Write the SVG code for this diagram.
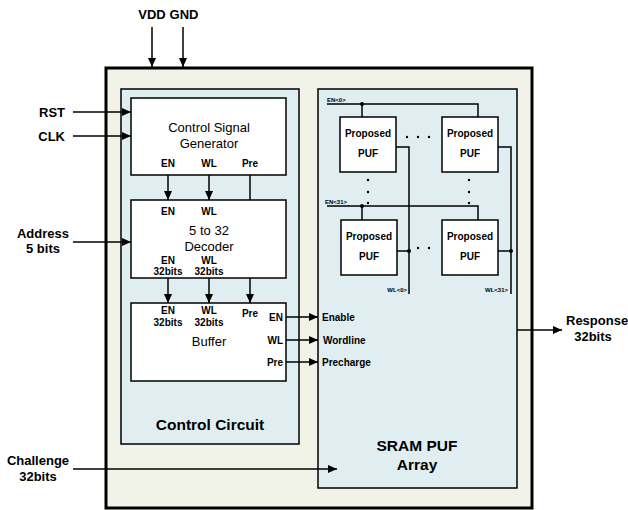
<svg xmlns="http://www.w3.org/2000/svg" width="628" height="510" viewBox="0 0 628 510">
<defs>
<marker id="ah" markerWidth="9" markerHeight="8" refX="9" refY="4" orient="auto" markerUnits="userSpaceOnUse">
<path d="M0,0 L9,4 L0,8 Z" fill="#000"/>
</marker>
<style>
.t{font-family:"Liberation Sans",Arial,sans-serif;fill:#000}
.b{font-weight:bold}
.box{fill:#fff;stroke:#000;stroke-width:1.5}
.ln{fill:none;stroke:#000;stroke-width:1.5}
.ar{fill:none;stroke:#000;stroke-width:1.5;marker-end:url(#ah)}
.s10{font-size:10px}
.s13{font-size:13px}
.s16{font-size:15.5px}
.s6{font-size:6px}
</style>
</defs>
<rect width="628" height="510" fill="#fff"/>
<g id="outer">
<rect x="106" y="68" width="426" height="440" fill="#f1f3e8" stroke="#000" stroke-width="3"/>
</g>
<g id="control-circuit">
<rect x="121" y="89" width="178" height="355" fill="#e1eef1" stroke="#000" stroke-width="1.5"/>
<text class="t b s16" x="210" y="430" text-anchor="middle">Control Circuit</text>
</g>
<g id="sram-puf-array">
<rect x="318" y="89" width="199" height="399" fill="#e1eef1" stroke="#000" stroke-width="1.5"/>
<text class="t b s16" x="417" y="451" text-anchor="middle">SRAM PUF</text>
<text class="t b s16" x="417" y="470" text-anchor="middle">Array</text>
</g>
<g id="connectors">
<line class="ar" x1="152" y1="27" x2="152" y2="67"/>
<line class="ar" x1="183" y1="27" x2="183" y2="67"/>
<line class="ar" x1="73" y1="112" x2="131" y2="112"/>
<line class="ar" x1="73" y1="136" x2="131" y2="136"/>
<line class="ar" x1="73" y1="242" x2="131" y2="242"/>
<line class="ar" x1="73" y1="469" x2="337" y2="469"/>
<line class="ar" x1="168" y1="175" x2="168" y2="200"/>
<line class="ar" x1="209" y1="175" x2="209" y2="200"/>
<line class="ln" x1="250" y1="175" x2="250" y2="200"/>
<line class="ar" x1="168" y1="278" x2="168" y2="303"/>
<line class="ar" x1="209" y1="278" x2="209" y2="303"/>
<line class="ar" x1="250" y1="278" x2="250" y2="303"/>
<line class="ar" x1="286" y1="317" x2="318" y2="317"/>
<line class="ar" x1="286" y1="340" x2="318" y2="340"/>
<line class="ar" x1="286" y1="362" x2="318" y2="362"/>
<line class="ar" x1="517" y1="330" x2="562" y2="330"/>
<polyline class="ln" points="327,104 478,104 478,117"/>
<line class="ln" x1="362" y1="104" x2="362" y2="117"/>
<polyline class="ln" points="327,206 478,206 478,220"/>
<line class="ln" x1="362" y1="206" x2="362" y2="220"/>
<polyline class="ln" points="396,147 409,147 409,294"/>
<polyline class="ln" points="498,147 511,147 511,294"/>
<line class="ln" x1="397" y1="251" x2="409" y2="251"/>
<line class="ln" x1="498" y1="251" x2="511" y2="251"/>
<circle cx="362" cy="104" r="2"/>
<circle cx="362" cy="206" r="2"/>
<circle cx="409" cy="251" r="2"/>
<circle cx="511" cy="251" r="2"/>
</g>
<g id="labels-io">
<text class="t b s13" x="152" y="19" text-anchor="middle">VDD</text>
<text class="t b s13" x="184" y="19" text-anchor="middle">GND</text>
<text class="t b s13" x="65" y="117" text-anchor="end">RST</text>
<text class="t b s13" x="65" y="141" text-anchor="end">CLK</text>
<text class="t b s13" x="43" y="238" text-anchor="middle">Address</text>
<text class="t b s13" x="43" y="253" text-anchor="middle">5 bits</text>
<text class="t b s13" x="38" y="465" text-anchor="middle">Challenge</text>
<text class="t b s13" x="38" y="481" text-anchor="middle">32bits</text>
<text class="t b s13" x="566" y="325">Response</text>
<text class="t b s13" x="593" y="341" text-anchor="middle">32bits</text>
<text class="t b s10" x="322" y="321">Enable</text>
<text class="t b s10" x="323" y="344">Wordline</text>
<text class="t b s10" x="322" y="366">Precharge</text>
</g>
<g id="control-signal-generator">
<rect class="box" x="131" y="98" width="155" height="77"/>
<text class="t s13" x="209" y="132" text-anchor="middle">Control Signal</text>
<text class="t s13" x="209" y="148" text-anchor="middle">Generator</text>
<text class="t b s10" x="168" y="167" text-anchor="middle">EN</text>
<text class="t b s10" x="209" y="167" text-anchor="middle">WL</text>
<text class="t b s10" x="250" y="167" text-anchor="middle">Pre</text>
</g>
<g id="decoder">
<rect class="box" x="131" y="200" width="155" height="78"/>
<text class="t b s10" x="168" y="215" text-anchor="middle">EN</text>
<text class="t b s10" x="209" y="215" text-anchor="middle">WL</text>
<text class="t s13" x="209" y="235" text-anchor="middle">5 to 32</text>
<text class="t s13" x="209" y="251" text-anchor="middle">Decoder</text>
<text class="t b s10" x="168" y="264" text-anchor="middle">EN</text>
<text class="t b s10" x="209" y="264" text-anchor="middle">WL</text>
<text class="t b s10" x="168" y="275" text-anchor="middle">32bits</text>
<text class="t b s10" x="209" y="275" text-anchor="middle">32bits</text>
</g>
<g id="buffer">
<rect class="box" x="131" y="303" width="155" height="78"/>
<text class="t b s10" x="168" y="314" text-anchor="middle">EN</text>
<text class="t b s10" x="209" y="314" text-anchor="middle">WL</text>
<text class="t b s10" x="168" y="326" text-anchor="middle">32bits</text>
<text class="t b s10" x="209" y="326" text-anchor="middle">32bits</text>
<text class="t b s10" x="250" y="317" text-anchor="middle">Pre</text>
<text class="t s13" x="209" y="346" text-anchor="middle">Buffer</text>
<text class="t b s10" x="283" y="321" text-anchor="end">EN</text>
<text class="t b s10" x="283" y="344" text-anchor="end">WL</text>
<text class="t b s10" x="283" y="366" text-anchor="end">Pre</text>
</g>
<g id="puf-0-0">
<rect class="box" x="340" y="117" width="56" height="55"/>
<text class="t b s10" x="368" y="137" text-anchor="middle">Proposed</text>
<text class="t b s10" x="368" y="157" text-anchor="middle">PUF</text>
</g>
<g id="puf-0-n">
<rect class="box" x="442" y="117" width="56" height="55"/>
<text class="t b s10" x="470" y="137" text-anchor="middle">Proposed</text>
<text class="t b s10" x="470" y="157" text-anchor="middle">PUF</text>
</g>
<g id="puf-31-0">
<rect class="box" x="341" y="220" width="56" height="55"/>
<text class="t b s10" x="369" y="240" text-anchor="middle">Proposed</text>
<text class="t b s10" x="369" y="260" text-anchor="middle">PUF</text>
</g>
<g id="puf-31-n">
<rect class="box" x="442" y="220" width="56" height="55"/>
<text class="t b s10" x="470" y="240" text-anchor="middle">Proposed</text>
<text class="t b s10" x="470" y="260" text-anchor="middle">PUF</text>
</g>
<g id="puf-array-labels">
<text class="t b s6" x="327" y="102">EN&lt;0&gt;</text>
<text class="t b s6" x="325" y="204">EN&lt;31&gt;</text>
<text class="t b s6" x="407" y="292" text-anchor="end">WL&lt;0&gt;</text>
<text class="t b s6" x="508" y="292" text-anchor="end">WL&lt;31&gt;</text>
<g fill="#000">
<circle cx="407" cy="137" r="1.2"/><circle cx="418" cy="137" r="1.2"/><circle cx="429" cy="137" r="1.2"/>
<circle cx="418" cy="248" r="1.2"/><circle cx="429" cy="248" r="1.2"/>
<circle cx="368" cy="180" r="1.2"/><circle cx="368" cy="192" r="1.2"/><circle cx="368" cy="203" r="1.2"/>
<circle cx="469" cy="180" r="1.2"/><circle cx="469" cy="192" r="1.2"/><circle cx="469" cy="203" r="1.2"/>
</g>
</g>
</svg>
